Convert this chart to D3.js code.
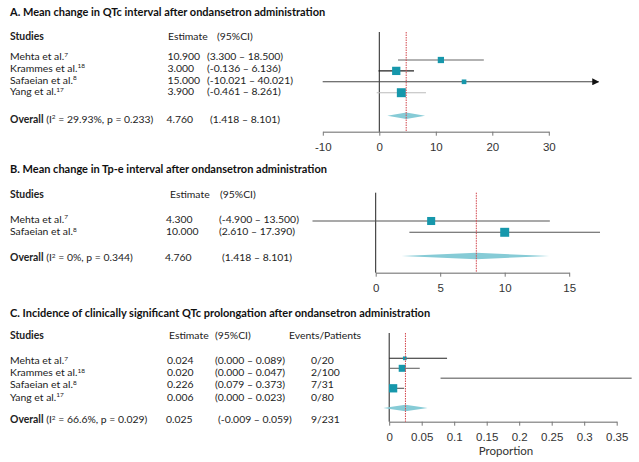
<!DOCTYPE html>
<html>
<head>
<meta charset="utf-8">
<script src="https://cdn.jsdelivr.net/npm/d3@7"></script>
<style>
    body { margin: 0; background: #fff; }
    svg { font-family: Lato, "Noto Sans", sans-serif; }
    .title { font-size: 11px; font-weight: bold; fill: #111; }
    .head { font-size: 10.4px; fill: #222; }
    .row { font-size: 10.4px; fill: #222; }
    .tick text { font-size: 11.5px; fill: #333; }
</style>
</head>
<body>
<div id="chart"></div>
<script>
// ---- panel A: QTc
const studiesA = ['Mehta et al.', 'Krammes et al.', 'Safaeian et al.', 'Yang et al.'];
const refsA = ['7', '18', '8', '17'];
const estA = [10.9, 3.0, 15.0, 3.9];
const loA = [3.3, -0.136, -10.021, -0.461];
const hiA = [18.5, 6.136, 40.021, 8.261];
const weightA = [20, 35, 11, 41];
const estTextA = ['10.900', '3.000', '15.000', '3.900'];
const ciTextA = ['(3.300 – 18.500)', '(-0.136 – 6.136)', '(-10.021 – 40.021)', '(-0.461 – 8.261)'];
const overallA = { est: 4.76, lo: 1.418, hi: 8.101, estText: '4.760', ciText: '(1.418 – 8.101)', i2: '29.93%', p: '0.233' };
const ticksA = [-10, 0, 10, 20, 30];

// ---- panel B: Tp-e
const studiesB = ['Mehta et al.', 'Safaeian et al.'];
const refsB = ['7', '8'];
const estB = [4.3, 10.0];
const loB = [-4.9, 2.61];
const hiB = [13.5, 17.39];
const weightB = [33, 41];
const estTextB = ['4.300', '10.000'];
const ciTextB = ['(-4.900 – 13.500)', '(2.610 – 17.390)'];
const overallB = { est: 7.8, lo: 2.0, hi: 13.45, estText: '4.760', ciText: '(1.418 – 8.101)', i2: '0%', p: '0.344' };
const ticksB = [0, 5, 10, 15];

// ---- panel C: incidence
const studiesC = ['Mehta et al.', 'Krammes et al.', 'Safaeian et al.', 'Yang et al.'];
const refsC = ['7', '18', '8', '17'];
const estC = [0.024, 0.020, 0.226, 0.006];
const loC = [0.0, 0.0, 0.079, 0.0];
const hiC = [0.089, 0.047, 0.373, 0.023];
const weightC = [7, 25, 0, 35];
const estTextC = ['0.024', '0.020', '0.226', '0.006'];
const ciTextC = ['(0.000 – 0.089)', '(0.000 – 0.047)', '(0.079 – 0.373)', '(0.000 – 0.023)'];
const eventsC = ['0/20', '2/100', '7/31', '0/80'];
const overallC = { est: 0.025, lo: -0.009, hi: 0.059, estText: '0.025', ciText: '(-0.009 – 0.059)', i2: '66.6%', p: '0.029', events: '9/231' };
const ticksC = [0, 0.05, 0.1, 0.15, 0.2, 0.25, 0.3, 0.35];

// line colours per row
const lineColA = ['#666', '#222', '#444', '#bbb'];
const lineColB = ['#555', '#555'];
const lineColC = ['#222', '#666', '#888', '#555'];

const teal = '#1697ab';
const diamondFill = '#86cbd6';

const svg = d3.select('#chart').append('svg')
    .attr('width', 639).attr('height', 462);

svg.append('defs').append('marker')
    .attr('id', 'arrow')
    .attr('viewBox', '0 0 10 10')
    .attr('refX', 9).attr('refY', 5)
    .attr('markerWidth', 7).attr('markerHeight', 7)
    .attr('markerUnits', 'userSpaceOnUse')
    .attr('orient', 'auto')
    .append('path').attr('d', 'M0,0L10,5L0,10z').attr('fill', '#111');

const sizeScale = d3.scaleSqrt().domain([0, 100]).range([0, 14]);
const fmt = d => d3.format('~g')(d).replace('\u2212', '-');

function studyLabel(g, x, y, name, ref) {
    const t = g.append('text').attr('class', 'row').attr('x', x).attr('y', y).text(name);
    t.append('tspan').attr('dy', -3.5).attr('font-size', 6.5).text(ref);
}

function overallLabel(g, x, y, i2, p) {
    const t = g.append('text').attr('class', 'row').attr('x', x).attr('y', y);
    t.append('tspan').attr('font-weight', 'bold').text('Overall');
    t.append('tspan').text(' (I');
    t.append('tspan').attr('dy', -3.5).attr('font-size', 6.5).text('2');
    t.append('tspan').attr('dy', 3.5).text(' = ' + i2 + ', p = ' + p + ')');
}

function panel(opts) {
    const g = svg.append('g');
    g.append('text').attr('class', 'title').attr('x', 10).attr('y', opts.titleY).text(opts.title);

    // header row
    g.append('text').attr('class', 'head').attr('x', 10).attr('y', opts.headY)
        .attr('font-weight', 'bold').attr('font-size', 10.8).text('Studies');
    g.append('text').attr('class', 'head').attr('x', opts.estHeadX).attr('y', opts.headY).text('Estimate');
    g.append('text').attr('class', 'head').attr('x', opts.ciHeadX).attr('y', opts.headY).text('(95%CI)');
    if (opts.events) {
        g.append('text').attr('class', 'head').attr('x', 289).attr('y', opts.headY).text('Events/Patients');
    }

    const n = opts.studies.length;
    const textY = d3.scaleLinear().domain([0, Math.max(n - 1, 1)]).range(opts.textRange);
    const markY = d3.scaleLinear().domain([0, Math.max(n - 1, 1)]).range(opts.markRange);
    const x = opts.x;

    opts.studies.forEach((s, i) => {
        studyLabel(g, 10, textY(i), s, opts.refs[i]);
        g.append('text').attr('class', 'row').attr('x', opts.estX).attr('y', textY(i)).text(opts.estText[i]);
        g.append('text').attr('class', 'row').attr('x', opts.ciX).attr('y', textY(i)).text(opts.ciText[i]);
        if (opts.events) {
            g.append('text').attr('class', 'row').attr('x', 311).attr('y', textY(i)).text(opts.events[i]);
        }
    });
    overallLabel(g, 10, opts.overallTextY, opts.overall.i2, opts.overall.p);
    g.append('text').attr('class', 'row').attr('x', opts.estX - 1).attr('y', opts.overallTextY).text(opts.overall.estText);
    g.append('text').attr('class', 'row').attr('x', opts.ciX + 3).attr('y', opts.overallTextY).text(opts.overall.ciText);
    if (opts.events) {
        g.append('text').attr('class', 'row').attr('x', 311).attr('y', opts.overallTextY).text(opts.overall.events);
    }

    // axis
    const axis = d3.axisBottom(x).tickValues(opts.ticks).tickSize(4).tickSizeOuter(0)
        .tickFormat(fmt);
    const ax = g.append('g').attr('transform', 'translate(0,' + opts.axisY + ')').call(axis);
    ax.select('.domain').attr('stroke', '#999').attr('stroke-width', 1.5);
    ax.selectAll('.tick line').attr('stroke', '#777');
    ax.selectAll('.tick text').attr('dy', '1.05em');

    // zero line
    g.append('line')
        .attr('x1', x(0)).attr('x2', x(0))
        .attr('y1', opts.topY).attr('y2', opts.axisY)
        .attr('stroke', '#222').attr('stroke-width', 1);

    // confidence intervals
    opts.lo.forEach((lo, i) => {
        const hi = opts.clipHi && opts.hi[i] > opts.clipHi ? opts.clipHi : opts.hi[i];
        const l = g.append('line')
            .attr('x1', x(lo)).attr('x2', x(hi))
            .attr('y1', markY(i)).attr('y2', markY(i))
            .attr('stroke', opts.lineCol[i])
            .attr('stroke-width', opts.lineCol[i] === '#888' ? 1.6 : 1.1);
        if (hi < opts.hi[i]) l.attr('marker-end', 'url(#arrow)');
    });

    // diamond
    const dy = markY.range()[1] + opts.diamondGap;
    const o = opts.overall;
    g.append('path')
        .attr('d', 'M' + x(o.lo) + ',' + dy + 'L' + x(o.est) + ',' + (dy - 3.2) +
            'L' + x(o.hi) + ',' + dy + 'L' + x(o.est) + ',' + (dy + 3.2) + 'Z')
        .attr('fill', diamondFill);

    // squares
    opts.est.forEach((e, i) => {
        const s = sizeScale(opts.weight[i]);
        if (s <= 0) return;
        g.append('rect')
            .attr('x', x(e) - s / 2).attr('y', markY(i) - s / 2)
            .attr('width', s).attr('height', s)
            .attr('fill', teal);
    });

    // pooled estimate line
    g.append('line')
        .attr('x1', x(o.est)).attr('x2', x(o.est))
        .attr('y1', opts.topY).attr('y2', opts.axisY)
        .attr('stroke', '#d2454b').attr('stroke-width', 1)
        .attr('stroke-dasharray', '1.5,1');

    return g;
}

panel({
    title: 'A. Mean change in QTc interval after ondansetron administration',
    titleY: 16, headY: 39.5, estHeadX: 168, ciHeadX: 217,
    studies: studiesA, refs: refsA, estText: estTextA, ciText: ciTextA,
    est: estA, lo: loA, hi: hiA, weight: weightA, lineCol: lineColA,
    overall: overallA, ticks: ticksA,
    textRange: [60, 95.3], markRange: [60, 92.7], overallTextY: 122.7,
    estX: 167.5, ciX: 207,
    x: d3.scaleLinear().domain([-10, 30]).range([322.8, 548.8]),
    axisY: 131.7, topY: 32, diamondGap: 23, clipHi: 38.8
});

panel({
    title: 'B. Mean change in Tp-e interval after ondansetron administration',
    titleY: 172.5, headY: 197.5, estHeadX: 170, ciHeadX: 220,
    studies: studiesB, refs: refsB, estText: estTextB, ciText: ciTextB,
    est: estB, lo: loB, hi: hiB, weight: weightB, lineCol: lineColB,
    overall: overallB, ticks: ticksB,
    textRange: [222.7, 235], markRange: [221, 232.3], overallTextY: 261,
    estX: 166, ciX: 219,
    x: d3.scaleLinear().domain([0, 15]).range([375.7, 569.2]),
    axisY: 272.7, topY: 192.7, diamondGap: 23.7
});

const gC = panel({
    title: 'C. Incidence of clinically significant QTc prolongation after ondansetron administration',
    titleY: 317.3, headY: 339.3, estHeadX: 169, ciHeadX: 215,
    studies: studiesC, refs: refsC, estText: estTextC, ciText: ciTextC, events: eventsC,
    est: estC, lo: loC, hi: hiC, weight: weightC, lineCol: lineColC,
    overall: overallC, ticks: ticksC,
    textRange: [364.3, 400.5], markRange: [358.3, 388.3], overallTextY: 423,
    estX: 167, ciX: 215,
    x: d3.scaleLinear().domain([0, 0.35]).range([389.2, 616.7]),
    axisY: 421.7, topY: 333, diamondGap: 19.7
});

gC.append('text').attr('x', 506).attr('y', 455)
    .attr('text-anchor', 'middle').attr('font-size', 11.5).attr('fill', '#333')
    .text('Proportion');
</script>
</body>
</html>
